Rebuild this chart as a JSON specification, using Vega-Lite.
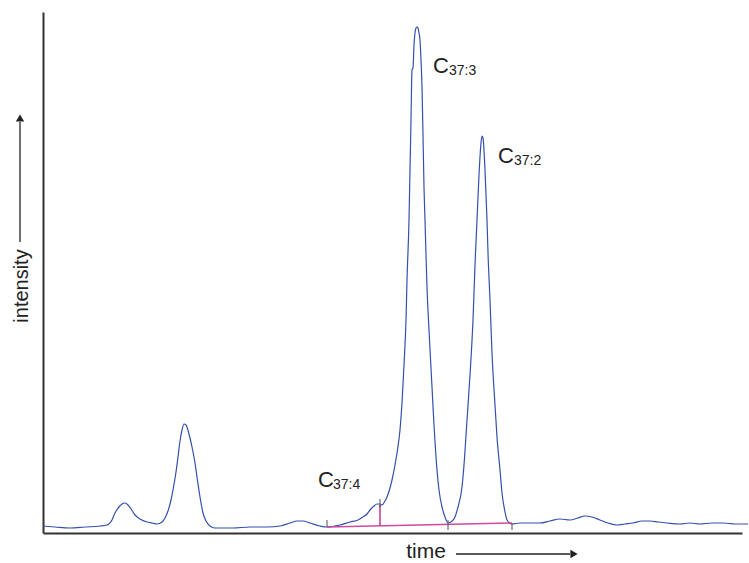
{
  "$schema": "https://vega.github.io/schema/vega-lite/v6.json",
  "width": 699,
  "height": 521,
  "autosize": {"type": "none"},
  "padding": {"left": 43, "top": 12, "right": 7, "bottom": 30},
  "background": "white",
  "config": {"view": {"stroke": null}, "font": "Liberation Sans"},
  "datasets": {
    "curve": [
      {"t":43,"v":7},{"t":55,"v":6},{"t":70,"v":5},{"t":85,"v":6},{"t":100,"v":7},{"t":107,"v":8},{"t":112,"v":13},{"t":115,"v":20},{"t":119,"v":26},{"t":122,"v":29},{"t":125,"v":30},{"t":128,"v":28},{"t":131,"v":24},{"t":135,"v":18},{"t":140,"v":14},{"t":147,"v":11},{"t":152,"v":10},{"t":157,"v":9},{"t":162,"v":11},{"t":165,"v":15},{"t":168,"v":22},{"t":171,"v":33},{"t":173,"v":43},{"t":176,"v":61},{"t":178,"v":76},{"t":180,"v":92},{"t":182,"v":103},{"t":184,"v":109},{"t":186,"v":108},{"t":189,"v":99},{"t":192,"v":86},{"t":195,"v":70},{"t":197,"v":56},{"t":200,"v":36},{"t":203,"v":20},{"t":206,"v":12},{"t":210,"v":7},{"t":215,"v":5},{"t":233,"v":5},{"t":250,"v":6},{"t":267,"v":6},{"t":280,"v":7},{"t":290,"v":10},{"t":297,"v":12},{"t":303,"v":12},{"t":310,"v":10},{"t":320,"v":7},{"t":327,"v":6},{"t":340,"v":8},{"t":350,"v":11},{"t":358,"v":13},{"t":363,"v":16},{"t":367,"v":19},{"t":370,"v":23},{"t":374,"v":27},{"t":377,"v":29},{"t":380,"v":29},{"t":382,"v":28},{"t":385,"v":32},{"t":387,"v":36},{"t":390,"v":45},{"t":392,"v":53},{"t":395,"v":68},{"t":397,"v":80},{"t":400,"v":103},{"t":402,"v":130},{"t":404,"v":168},{"t":406,"v":213},{"t":407,"v":253},{"t":409,"v":313},{"t":410,"v":363},{"t":411,"v":413},{"t":412,"v":463},{"t":413,"v":465},{"t":414,"v":488},{"t":415,"v":500},{"t":416,"v":505},{"t":417,"v":506},{"t":418,"v":505},{"t":419,"v":500},{"t":420,"v":493},{"t":421,"v":473},{"t":422,"v":446},{"t":423,"v":398},{"t":424,"v":346},{"t":425,"v":313},{"t":426,"v":278},{"t":427,"v":246},{"t":429,"v":203},{"t":432,"v":146},{"t":434,"v":108},{"t":437,"v":63},{"t":439,"v":43},{"t":442,"v":26},{"t":445,"v":16},{"t":448,"v":10},{"t":451,"v":11},{"t":455,"v":16},{"t":458,"v":26},{"t":462,"v":46},{"t":464,"v":68},{"t":467,"v":113},{"t":470,"v":158},{"t":473,"v":213},{"t":475,"v":268},{"t":477,"v":313},{"t":479,"v":358},{"t":481,"v":390},{"t":482,"v":397},{"t":483,"v":395},{"t":485,"v":363},{"t":487,"v":313},{"t":488,"v":280},{"t":490,"v":233},{"t":492,"v":180},{"t":495,"v":128},{"t":497,"v":96},{"t":500,"v":63},{"t":502,"v":40},{"t":505,"v":21},{"t":507,"v":13},{"t":512,"v":9},{"t":520,"v":10},{"t":530,"v":10},{"t":540,"v":10},{"t":550,"v":12},{"t":560,"v":14},{"t":570,"v":13},{"t":578,"v":15},{"t":585,"v":17},{"t":592,"v":16},{"t":600,"v":13},{"t":608,"v":10},{"t":617,"v":8},{"t":625,"v":9},{"t":633,"v":10},{"t":642,"v":12},{"t":650,"v":12},{"t":658,"v":11},{"t":667,"v":10},{"t":680,"v":9},{"t":690,"v":10},{"t":700,"v":9},{"t":712,"v":10},{"t":723,"v":10},{"t":735,"v":9},{"t":748,"v":9}
    ],
    "baseline": [{"t":327,"v":6},{"t":512,"v":10}],
    "drop": [{"t":380,"v":7.4,"v2":28}],
    "ticks": [
      {"t":327,"v":6,"v2":13},
      {"t":380,"v":25,"v2":34},
      {"t":448,"v":3,"v2":13},
      {"t":512,"v":3,"v2":10}
    ],
    "bigC": [
      {"t":433,"v":460,"label":"C"},
      {"t":498,"v":370,"label":"C"},
      {"t":318,"v":46,"label":"C"}
    ],
    "subs": [
      {"t":449,"v":458,"label":"37:3"},
      {"t":514,"v":368,"label":"37:2"},
      {"t":333,"v":44,"label":"37:4"}
    ],
    "timeTitle": [{"t":426,"v":-25,"label":"time"}],
    "intTitle": [{"t":28,"v":247,"label":"intensity"}],
    "timeArrow": [{"t":456,"t2":570,"v":-21}],
    "timeHead": [{"t":574,"v":-21}],
    "intArrow": [{"t":20,"v":291,"v2":411}],
    "intHead": [{"t":20,"v":415}]
  },
  "layer": [
    {
      "data": {"name": "curve"},
      "mark": {"type": "line", "color": "#3450ad", "strokeWidth": 1.2, "interpolate": "monotone", "clip": false},
      "encoding": {
        "x": {"field": "t", "type": "quantitative", "scale": {"domain": [43, 742], "nice": false, "zero": false},
              "axis": {"domain": true, "domainColor": "#333", "domainWidth": 2, "ticks": false, "labels": false, "grid": false, "title": null}},
        "y": {"field": "v", "type": "quantitative", "scale": {"domain": [0, 521], "nice": false, "zero": false},
              "axis": {"domain": true, "domainColor": "#333", "domainWidth": 2, "ticks": false, "labels": false, "grid": false, "title": null}}
      }
    },
    {
      "data": {"name": "baseline"},
      "mark": {"type": "line", "color": "#cc4aa0", "strokeWidth": 1.5},
      "encoding": {
        "x": {"field": "t", "type": "quantitative"},
        "y": {"field": "v", "type": "quantitative"}
      }
    },
    {
      "data": {"name": "drop"},
      "mark": {"type": "rule", "color": "#c0358f", "strokeWidth": 1.5},
      "encoding": {
        "x": {"field": "t", "type": "quantitative"},
        "y": {"field": "v", "type": "quantitative"},
        "y2": {"field": "v2"}
      }
    },
    {
      "data": {"name": "ticks"},
      "mark": {"type": "rule", "color": "#555", "strokeWidth": 1},
      "encoding": {
        "x": {"field": "t", "type": "quantitative"},
        "y": {"field": "v", "type": "quantitative"},
        "y2": {"field": "v2"}
      }
    },
    {
      "data": {"name": "bigC"},
      "mark": {"type": "text", "fontSize": 22, "align": "left", "baseline": "alphabetic", "color": "#222"},
      "encoding": {
        "x": {"field": "t", "type": "quantitative"},
        "y": {"field": "v", "type": "quantitative"},
        "text": {"field": "label"}
      }
    },
    {
      "data": {"name": "subs"},
      "mark": {"type": "text", "fontSize": 14, "align": "left", "baseline": "alphabetic", "color": "#222"},
      "encoding": {
        "x": {"field": "t", "type": "quantitative"},
        "y": {"field": "v", "type": "quantitative"},
        "text": {"field": "label"}
      }
    },
    {
      "data": {"name": "timeTitle"},
      "mark": {"type": "text", "fontSize": 21, "align": "center", "baseline": "alphabetic", "color": "#222", "clip": false},
      "encoding": {
        "x": {"field": "t", "type": "quantitative"},
        "y": {"field": "v", "type": "quantitative"},
        "text": {"field": "label"}
      }
    },
    {
      "data": {"name": "intTitle"},
      "mark": {"type": "text", "fontSize": 20, "align": "center", "baseline": "alphabetic", "angle": 270, "color": "#222", "clip": false},
      "encoding": {
        "x": {"field": "t", "type": "quantitative"},
        "y": {"field": "v", "type": "quantitative"},
        "text": {"field": "label"}
      }
    },
    {
      "data": {"name": "timeArrow"},
      "mark": {"type": "rule", "color": "#222", "strokeWidth": 1.3, "clip": false},
      "encoding": {
        "x": {"field": "t", "type": "quantitative"},
        "x2": {"field": "t2"},
        "y": {"field": "v", "type": "quantitative"}
      }
    },
    {
      "data": {"name": "timeHead"},
      "mark": {"type": "point", "shape": "triangle-right", "filled": true, "color": "#222", "size": 70, "opacity": 1, "clip": false},
      "encoding": {
        "x": {"field": "t", "type": "quantitative"},
        "y": {"field": "v", "type": "quantitative"}
      }
    },
    {
      "data": {"name": "intArrow"},
      "mark": {"type": "rule", "color": "#222", "strokeWidth": 1.3, "clip": false},
      "encoding": {
        "x": {"field": "t", "type": "quantitative"},
        "y": {"field": "v", "type": "quantitative"},
        "y2": {"field": "v2"}
      }
    },
    {
      "data": {"name": "intHead"},
      "mark": {"type": "point", "shape": "triangle-up", "filled": true, "color": "#222", "size": 70, "opacity": 1, "clip": false},
      "encoding": {
        "x": {"field": "t", "type": "quantitative"},
        "y": {"field": "v", "type": "quantitative"}
      }
    }
  ]
}
